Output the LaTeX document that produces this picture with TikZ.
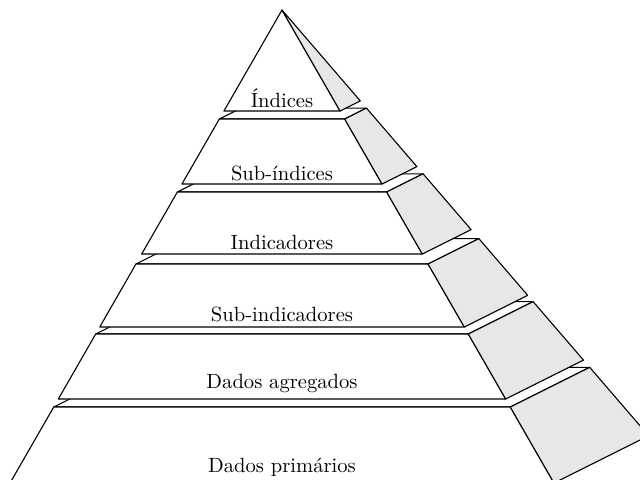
\documentclass[tikz,border=0pt]{standalone}
\usepackage{fontspec}
\usepackage{tikz}
\definecolor{sidegray}{RGB}{230,231,232}
\tikzset{
	face/.style={draw, fill=white, line width=0.55pt, line join=round},
	side/.style={draw, fill=sidegray, line width=0.55pt, line join=round},
	lbl/.style={anchor=base, inner sep=0pt, font=\fontsize{10.3}{12}\selectfont},
}

\begin{document}
\begin{tikzpicture}[x=0.5pt, y=-0.5pt]
\useasboundingbox (0,0) rectangle (640,479);
\clip (0,0) rectangle (640,479);

% the slabs, bottom one first so the upper ones cover it
\foreach \lvtop/\lvbot in {397/473, 324/389, 254/317, 182/244, 109/174, 0/101} {
	% top face
	\path[face] (282-0.575*\lvtop, 10+\lvtop) -- (282+0.575*\lvtop, 10+\lvtop)
		-- (282+0.775*\lvtop, 10+0.9*\lvtop) -- (282-0.375*\lvtop, 10+0.9*\lvtop) -- cycle;
	% front face
	\path[face] (282-0.575*\lvtop, 10+\lvtop) -- (282+0.575*\lvtop, 10+\lvtop)
		-- (282+0.575*\lvbot, 10+\lvbot) -- (282-0.575*\lvbot, 10+\lvbot) -- cycle;
	% side face
	\path[side] (282+0.575*\lvtop, 10+\lvtop) -- (282+0.775*\lvtop, 10+0.9*\lvtop)
		-- (282+0.775*\lvbot, 10+0.9*\lvbot) -- (282+0.575*\lvbot, 10+\lvbot) -- cycle;
}

%the names
\node[lbl] (idx) at (282,107) {Índices};
\node[lbl] (subidx) at (282,180) {Sub-índices};
\node[lbl] (ind) at (282,249) {Indicadores};
\node[lbl] (subind) at (282,321) {Sub-indicadores};
\node[lbl] (agg) at (282,388) {Dados agregados};
\node[lbl] (prim) at (282,472) {Dados primários};
\end{tikzpicture}
\end{document}
